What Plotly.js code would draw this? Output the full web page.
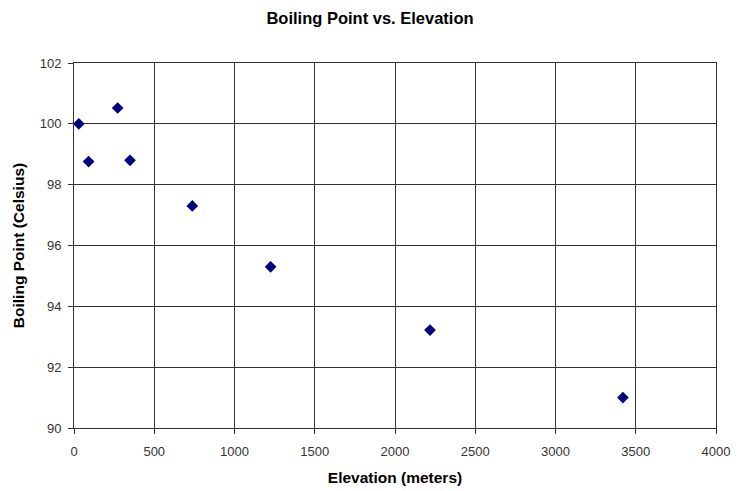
<!DOCTYPE html>
<html><head><meta charset="utf-8">
<script src="https://cdn.plot.ly/plotly-3.0.1.min.js"></script>
<style>html,body{margin:0;padding:0;background:#fff}#chart{width:740px;height:491px}</style>
</head><body><div id="chart"></div>
<script>
const elevation = [30, 91, 272, 349, 737, 1225, 2218, 3420];
const boilingPoint = [100.0, 98.76, 100.52, 98.8, 97.3, 95.3, 93.22, 91.0];
const xTicks = [0, 500, 1000, 1500, 2000, 2500, 3000, 3500, 4000];
const yTicks = [90, 92, 94, 96, 98, 100, 102];

const trace = {
  x: elevation, y: boilingPoint, type: 'scatter', mode: 'markers',
  marker: {symbol: 'diamond', color: '#000080', size: 9},
  hoverinfo: 'x+y'
};
const font = {family: 'Liberation Sans, Arial, sans-serif', color: '#000'};
const layout = {
  width: 740, height: 491,
  margin: {l: 74, r: 24, t: 63, b: 63},
  paper_bgcolor: '#fff', plot_bgcolor: '#fff',
  showlegend: false,
  font: font,
  title: {text: '<b>Boiling Point vs. Elevation</b>', font: {family: font.family, size: 16.5, color: '#000'}, x: 0.5, xanchor: 'center', y: 0.962, yanchor: 'middle'},
  xaxis: {
    range: [0, 4000], tickvals: xTicks, ticktext: xTicks.map(String),
    showgrid: true, gridcolor: '#333', gridwidth: 1,
    showline: true, linecolor: '#333', linewidth: 1, mirror: true,
    ticks: 'outside', ticklen: 5, tickcolor: '#333', ticklabelstandoff: 6,
    zeroline: false, tickfont: {family: font.family, size: 13, color: '#333'},
    title: {text: '<b>Elevation (meters)</b>', font: {family: font.family, size: 15.5, color: '#000'}, standoff: 14}
  },
  yaxis: {
    range: [90, 102], tickvals: yTicks, ticktext: yTicks.map(String),
    showgrid: true, gridcolor: '#333', gridwidth: 1,
    showline: true, linecolor: '#333', linewidth: 1, mirror: true,
    ticks: 'outside', ticklen: 5, tickcolor: '#333', ticklabelstandoff: 4,
    zeroline: false, tickfont: {family: font.family, size: 13, color: '#333'},
    title: {text: '<b>Boiling Point (Celsius)</b>', font: {family: font.family, size: 15.5, color: '#000'}, standoff: 11}
  }
};
Plotly.newPlot('chart', [trace], layout, {displayModeBar: false, staticPlot: true});
</script></body></html>
